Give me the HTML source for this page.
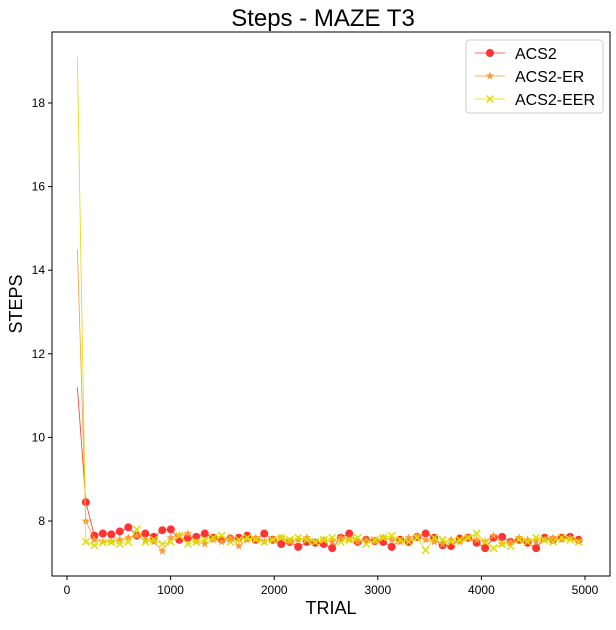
<!DOCTYPE html>
<html><head><meta charset="utf-8"><style>
body{margin:0;background:#fff;font-family:"Liberation Sans",sans-serif}
svg text{font-family:"Liberation Sans",sans-serif}
</style></head><body>
<svg width="616" height="625" id="c"></svg>
<script>
const trialStart = 100, trialStep = 82;
const acs2 = [11.2,8.45,7.65,7.7,7.68,7.75,7.85,7.65,7.7,7.62,7.78,7.8,7.55,7.6,7.62,7.7,7.6,7.55,7.58,7.6,7.65,7.55,7.7,7.55,7.45,7.5,7.38,7.5,7.48,7.45,7.35,7.6,7.7,7.5,7.55,7.52,7.5,7.38,7.55,7.5,7.62,7.7,7.6,7.42,7.4,7.58,7.6,7.48,7.35,7.6,7.62,7.5,7.55,7.48,7.35,7.6,7.55,7.6,7.62,7.55];
const acs2er = [14.5,8.0,7.55,7.5,7.5,7.55,7.6,7.65,7.55,7.5,7.28,7.6,7.65,7.7,7.5,7.45,7.55,7.5,7.6,7.4,7.55,7.6,7.5,7.55,7.6,7.5,7.55,7.6,7.5,7.55,7.5,7.6,7.55,7.5,7.55,7.5,7.6,7.55,7.5,7.6,7.65,7.55,7.5,7.45,7.55,7.5,7.6,7.55,7.5,7.65,7.45,7.5,7.6,7.55,7.5,7.55,7.6,7.55,7.6,7.5];
const acs2eer = [19.1,7.5,7.42,7.48,7.5,7.45,7.5,7.8,7.5,7.55,7.45,7.5,7.65,7.45,7.5,7.55,7.6,7.65,7.5,7.55,7.6,7.55,7.5,7.55,7.6,7.55,7.6,7.55,7.5,7.55,7.6,7.5,7.55,7.6,7.45,7.55,7.6,7.65,7.55,7.5,7.6,7.3,7.6,7.55,7.5,7.55,7.6,7.7,7.5,7.35,7.45,7.4,7.55,7.5,7.6,7.55,7.5,7.6,7.55,7.5];
const xTicks = [0,1000,2000,3000,4000,5000];
const yTicks = [8,10,12,14,16,18];
const X = v => 67 + v*(585-67)/5000;
const Y = v => 521 - (v-8)*(521-103)/10;
const NS="http://www.w3.org/2000/svg", svg=document.getElementById('c');
function mk(t,a,txt){const e=document.createElementNS(NS,t);for(const k in a)e.setAttribute(k,a[k]);if(txt!=null)e.textContent=txt;svg.appendChild(e);return e;}
const frame=mk('rect',{x:52,y:32,width:558,height:544,fill:'none',stroke:'#000','stroke-width':1});


xTicks.forEach(t=>{mk('line',{x1:X(t),x2:X(t),y1:576,y2:580,stroke:'#000'});
 const l=mk('text',{x:X(t),y:594,'font-size':12,'text-anchor':'middle'},t);
 
 });
yTicks.forEach(t=>{mk('line',{x1:48,x2:52,y1:Y(t),y2:Y(t),stroke:'#000'});
 const l=mk('text',{x:45,y:Y(t)+4,'font-size':12,'text-anchor':'end'},t);
 
 });
const tt=mk('text',{x:323,y:26,'font-size':24,'text-anchor':'middle'},'Steps - MAZE T3');


const xl=mk('text',{x:331,y:614,'font-size':18,'text-anchor':'middle'},'TRIAL');


const yl=mk('text',{x:22,y:304,'font-size':18,'text-anchor':'middle',transform:'rotate(-90 22 304)'},'STEPS');


function star(cx,cy,r){let p=[];for(let i=0;i<10;i++){const a=-Math.PI/2+i*Math.PI/5,rr=i%2?r*0.4:r;p.push((cx+rr*Math.cos(a)).toFixed(1)+','+(cy+rr*Math.sin(a)).toFixed(1));}return p.join(' ');}
function marker(type,x,y,col,name){let e;
 if(type==='o')e=mk('circle',{cx:x,cy:y,r:4,fill:col});
 else if(type==='*')e=mk('polygon',{points:star(x,y,4.5),fill:col});
 else e=mk('path',{d:`M${x-3.5},${y-3.5}L${x+3.5},${y+3.5}M${x-3.5},${y+3.5}L${x+3.5},${y-3.5}`,stroke:col,'stroke-width':1.5});
 
 }
const series=[[acs2,'#ff3333','o','acs2'],[acs2er,'#ff9933','*','acs2-er'],[acs2eer,'#dddd00','x','acs2-eer']];
series.forEach(([d,col,m,n])=>{
 const pts=d.map((v,i)=>X(trialStart+i*trialStep)+','+Y(v)).join(' ');
 const pl=mk('polyline',{points:pts,fill:'none',stroke:col,'stroke-width':0.8});
 
 
 d.forEach((v,i)=>{if(i>0)marker(m,X(trialStart+i*trialStep),Y(v),col,n+'-point');});
});
const lg=mk('rect',{x:466,y:40,width:137,height:73,fill:'#fff',stroke:'#ccc',rx:3});


series.forEach(([d,col,m,n],i)=>{const y=53+i*23;
 mk('line',{x1:475,x2:505,y1:y,y2:y,stroke:col,'stroke-width':0.8});
 marker(m,490,y,col,'legend-marker');
 const t=mk('text',{x:515,y:y+6,'font-size':16},['ACS2','ACS2-ER','ACS2-EER'][i]);
 
 });
</script>
</body></html>
